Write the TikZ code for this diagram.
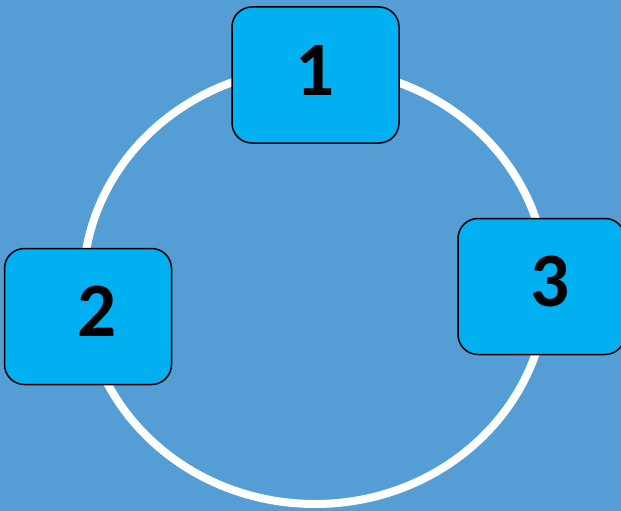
\documentclass[tikz,border=0pt]{standalone}
\usepackage{fontspec}
\setmainfont{Carlito}
\usepackage{tikz}
\usetikzlibrary{shapes, positioning}
\definecolor{bgblue}{RGB}{84,158,213}
\definecolor{boxblue}{RGB}{0,176,240}
\tikzstyle{box} = [rectangle, rounded corners=20pt, minimum width=167pt, minimum height=136pt, text depth=10pt, draw=black, line width=1.5pt, fill=boxblue, font=\fontsize{77}{77}\selectfont\bfseries]
\tikzstyle{ring} = [draw=white, line width=8pt]

\begin{document}
\begin{tikzpicture}[x=1pt, y=-1pt]

    \useasboundingbox (0, 0) rectangle (621, 511);
    \clip (0, 0) rectangle (621, 511);
    \fill [bgblue] (0, 0) rectangle (621, 511);

    \draw [ring] (315, 286) ellipse [x radius=232, y radius=218];

    \node (box1) [box] at (315.5, 75) {1};
    \node (box2) [box] at (88, 316.5) {\hspace*{18pt}2};
    \node (box3) [box] at (541.5, 286.5) {\hspace*{18pt}3};

\end{tikzpicture}
\end{document}
